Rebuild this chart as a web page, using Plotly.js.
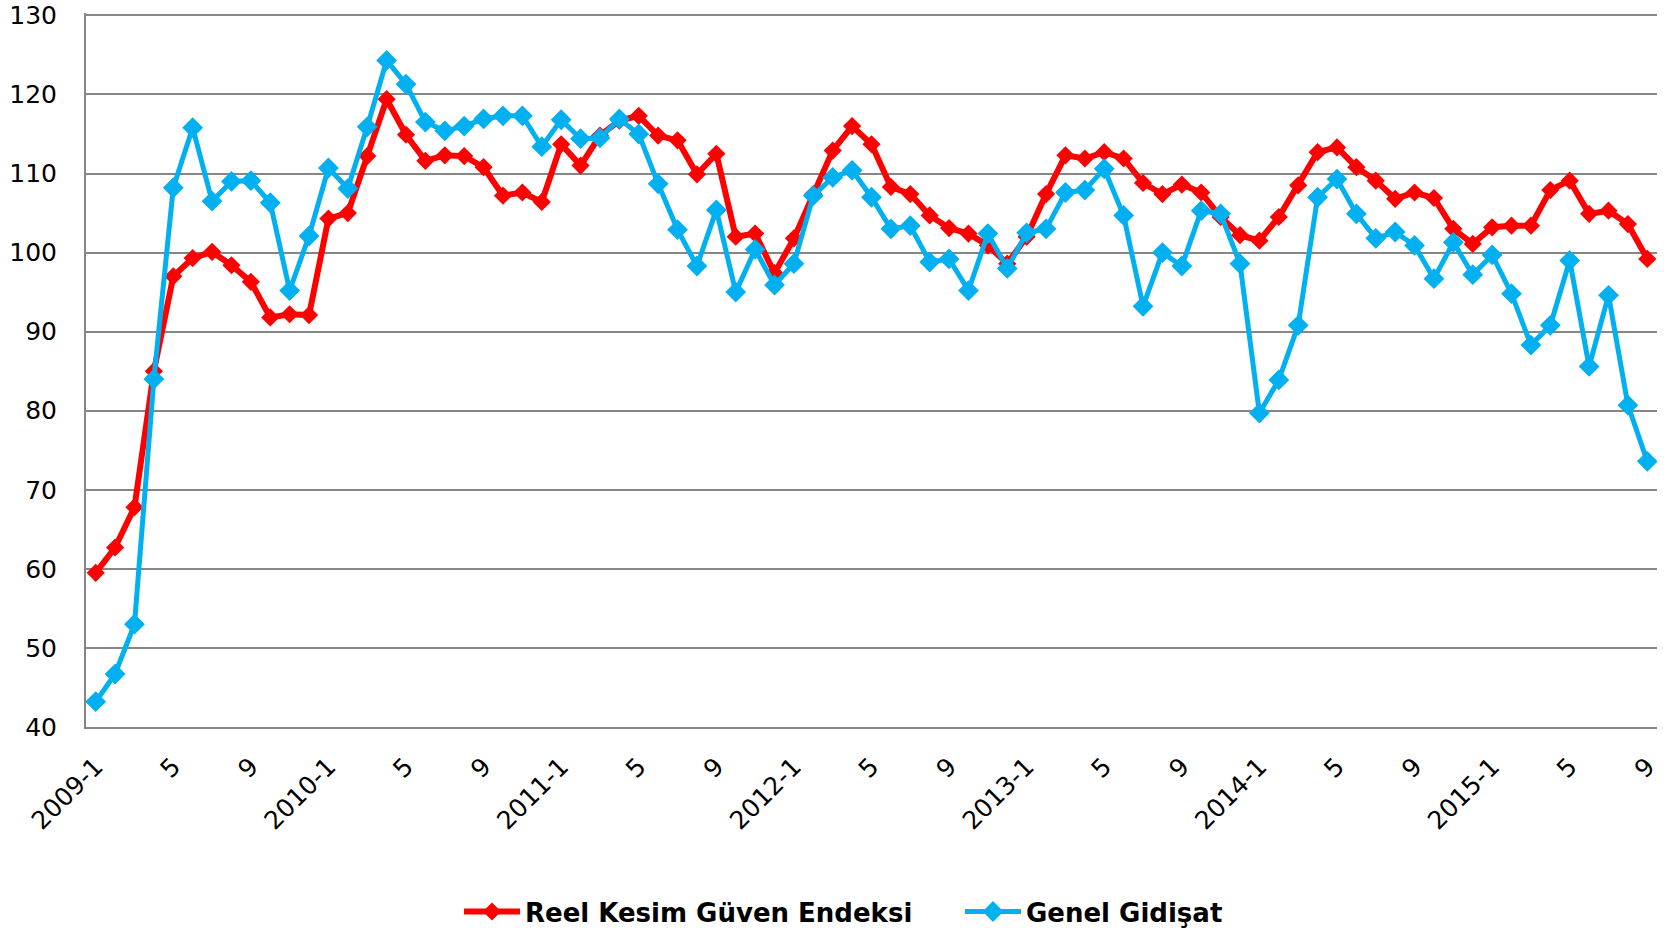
<!DOCTYPE html>
<html>
<head>
<meta charset="utf-8">
<script src="https://cdn.plot.ly/plotly-3.0.1.min.js"></script>
<style>
  html, body { margin: 0; padding: 0; background: #ffffff; }
  #chart { width: 1676px; height: 934px; }
</style>
</head>
<body>
<div id="chart"></div>
<script>
const months = [
  "2009-1","2009-2","2009-3","2009-4","2009-5","2009-6","2009-7","2009-8","2009-9","2009-10","2009-11","2009-12",
  "2010-1","2010-2","2010-3","2010-4","2010-5","2010-6","2010-7","2010-8","2010-9","2010-10","2010-11","2010-12",
  "2011-1","2011-2","2011-3","2011-4","2011-5","2011-6","2011-7","2011-8","2011-9","2011-10","2011-11","2011-12",
  "2012-1","2012-2","2012-3","2012-4","2012-5","2012-6","2012-7","2012-8","2012-9","2012-10","2012-11","2012-12",
  "2013-1","2013-2","2013-3","2013-4","2013-5","2013-6","2013-7","2013-8","2013-9","2013-10","2013-11","2013-12",
  "2014-1","2014-2","2014-3","2014-4","2014-5","2014-6","2014-7","2014-8","2014-9","2014-10","2014-11","2014-12",
  "2015-1","2015-2","2015-3","2015-4","2015-5","2015-6","2015-7","2015-8","2015-9"
];

const tickMonths = ["2009-1","2009-5","2009-9","2010-1","2010-5","2010-9","2011-1","2011-5","2011-9",
  "2012-1","2012-5","2012-9","2013-1","2013-5","2013-9","2014-1","2014-5","2014-9","2015-1","2015-5","2015-9"];
const tickLabels = ["2009-1","5","9","2010-1","5","9","2011-1","5","9",
  "2012-1","5","9","2013-1","5","9","2014-1","5","9","2015-1","5","9"];

const reelKesim = [
  59.5, 62.7, 67.8, 85.0, 97.0, 99.3, 100.1, 98.4, 96.3, 91.8, 92.2, 92.1,
  104.3, 105.0, 112.2, 119.4, 114.9, 111.6, 112.3, 112.2, 110.8, 107.2, 107.6, 106.4,
  113.7, 111.0, 114.8, 116.7, 117.3, 114.8, 114.2, 109.9, 112.5, 102.0, 102.4, 97.4,
  101.8, 107.4, 112.9, 116.0, 113.7, 108.3, 107.4, 104.7, 103.1, 102.4, 100.9, 98.6,
  102.0, 107.4, 112.3, 111.9, 112.7, 111.9, 108.8, 107.4, 108.6, 107.6, 104.5, 102.2,
  101.5, 104.5, 108.5, 112.7, 113.3, 110.8, 109.1, 106.8, 107.6, 106.9, 103.0, 101.1,
  103.2, 103.4, 103.4, 107.9, 109.1, 104.9, 105.3, 103.6, 99.2
];

const genelGidisat = [
  43.2, 46.7, 53.0, 84.0, 108.2, 115.8, 106.5, 109.0, 109.1, 106.3, 95.2, 102.1,
  110.7, 108.1, 115.9, 124.3, 121.3, 116.5, 115.4, 116.0, 116.9, 117.3, 117.3, 113.4,
  116.8, 114.4, 114.5, 116.9, 115.0, 108.7, 102.9, 98.3, 105.4, 95.0, 100.4, 95.9,
  98.6, 107.2, 109.5, 110.4, 107.0, 103.0, 103.4, 98.8, 99.2, 95.2, 102.4, 98.0,
  102.5, 103.0, 107.6, 107.9, 110.6, 104.7, 93.2, 100.0, 98.3, 105.3, 104.9, 98.6,
  79.7, 83.9, 90.8, 107.0, 109.3, 104.9, 101.8, 102.6, 100.9, 96.7, 101.3, 97.2,
  99.7, 94.8, 88.3, 90.8, 99.0, 85.6, 94.6, 80.7, 73.6
];

const yTicks = [40, 50, 60, 70, 80, 90, 100, 110, 120, 130];

const FONT = 'DejaVu Sans, Verdana, sans-serif';

const traces = [
  {
    type: 'scatter', mode: 'lines+markers',
    name: 'Reel Kesim Güven Endeksi',
    x: months, y: reelKesim,
    line: { color: '#FF0000', width: 6 },
    marker: { symbol: 'diamond', size: 14, color: '#FF0000' },
    legend: 'legend'
  },
  {
    type: 'scatter', mode: 'lines+markers',
    name: 'Genel Gidişat',
    x: months, y: genelGidisat,
    line: { color: '#00B0F0', width: 5 },
    marker: { symbol: 'diamond', size: 16, color: '#00B0F0' },
    legend: 'legend2'
  }
];

const legendCommon = {
  orientation: 'h',
  xref: 'container', yref: 'container',
  xanchor: 'left',
  y: 0.024, yanchor: 'middle',
  font: { family: FONT, size: 26, color: '#000000', weight: 'bold' },
  itemwidth: 56,
  bgcolor: 'rgba(0,0,0,0)',
  borderwidth: 0
};

const layout = {
  width: 1676, height: 934,
  margin: { l: 86, r: 19, t: 13, b: 207 },
  paper_bgcolor: '#ffffff', plot_bgcolor: '#ffffff',
  font: { family: FONT, color: '#000000', size: 25 },
  showlegend: true,
  legend: Object.assign({}, legendCommon, { x: 459 / 1676 }),
  legend2: Object.assign({}, legendCommon, { x: 960 / 1676 }),
  xaxis: {
    type: 'category',
    range: [-0.5, 80.5],
    tickmode: 'array', tickvals: tickMonths, ticktext: tickLabels,
    tickangle: -45,
    tickfont: { family: FONT, size: 25, color: '#000000' },
    showgrid: false,
    showline: true, linecolor: '#868686', linewidth: 2,
    ticks: '', ticklabelstandoff: 13,
    ticklabeloverflow: 'allow',
    zeroline: false, fixedrange: true
  },
  yaxis: {
    range: [40, 130.3],
    tickmode: 'array', tickvals: yTicks,
    tickfont: { family: FONT, size: 25, color: '#000000' },
    showgrid: true, gridcolor: '#868686', gridwidth: 2,
    showline: true, linecolor: '#868686', linewidth: 2,
    ticks: '', ticklabelstandoff: 22,
    ticklabeloverflow: 'allow',
    zeroline: false, fixedrange: true
  }
};

Plotly.newPlot('chart', traces, layout, { displayModeBar: false, staticPlot: true });
</script>
</body>
</html>
